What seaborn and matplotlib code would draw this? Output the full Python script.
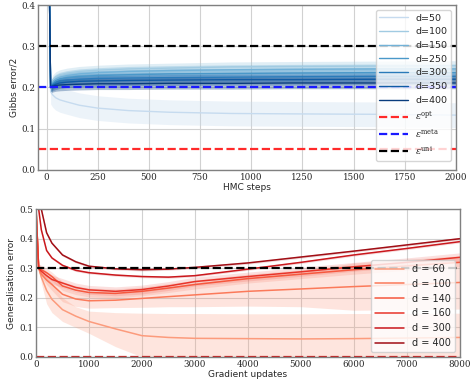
import numpy as np
import pandas as pd
import seaborn as sns
import matplotlib.pyplot as plt
from matplotlib import cm

# 01. donnees - panneau du haut (HMC)
hmc_steps = [10, 20, 30, 45, 65, 100, 160, 250, 400, 600, 900, 1200, 1600, 2000]
hmc_dims = [50, 100, 150, 250, 300, 350, 400]
gibbs_d50 = [0.60, 0.190, 0.182, 0.175, 0.170, 0.165, 0.157, 0.150, 0.144, 0.140, 0.137, 0.136, 0.135, 0.133]
gibbs_d100 = [0.60, 0.200, 0.218, 0.226, 0.231, 0.235, 0.239, 0.242, 0.245, 0.247, 0.250, 0.251, 0.252, 0.253]
gibbs_d150 = [0.60, 0.200, 0.213, 0.220, 0.225, 0.229, 0.233, 0.236, 0.239, 0.241, 0.243, 0.244, 0.245, 0.245]
gibbs_d250 = [0.60, 0.200, 0.210, 0.216, 0.220, 0.224, 0.227, 0.229, 0.231, 0.233, 0.234, 0.235, 0.236, 0.236]
gibbs_d300 = [0.60, 0.200, 0.207, 0.212, 0.215, 0.218, 0.220, 0.222, 0.223, 0.224, 0.225, 0.226, 0.227, 0.227]
gibbs_d350 = [0.60, 0.200, 0.205, 0.208, 0.211, 0.213, 0.215, 0.216, 0.217, 0.218, 0.219, 0.219, 0.220, 0.220]
gibbs_d400 = [0.60, 0.200, 0.203, 0.205, 0.206, 0.207, 0.208, 0.209, 0.209, 0.210, 0.210, 0.211, 0.211, 0.211]
gibbs_spread = [0.030, 0.012, 0.012, 0.012, 0.012, 0.013, 0.014]
eps_opt_hmc, eps_meta_hmc, eps_uni_hmc = 0.05, 0.2, 0.3

# 02. donnees - panneau du bas (descente de gradient)
grad_steps = [0, 50, 100, 200, 300, 500, 750, 1000, 1500, 2000, 2500, 3000, 4000, 5000, 6000, 7000, 8000]
gd_dims = [60, 100, 140, 160, 300, 400]
gen_d60 = [0.50, 0.30, 0.270, 0.225, 0.195, 0.160, 0.138, 0.120, 0.095, 0.072, 0.066, 0.063, 0.062, 0.061, 0.062, 0.064, 0.066]
gen_d100 = [0.50, 0.30, 0.280, 0.260, 0.245, 0.212, 0.196, 0.190, 0.192, 0.198, 0.204, 0.210, 0.222, 0.230, 0.238, 0.245, 0.252]
gen_d140 = [0.50, 0.30, 0.295, 0.285, 0.272, 0.240, 0.226, 0.218, 0.215, 0.222, 0.233, 0.245, 0.265, 0.280, 0.295, 0.308, 0.320]
gen_d160 = [0.50, 0.30, 0.290, 0.275, 0.262, 0.250, 0.235, 0.227, 0.222, 0.228, 0.240, 0.255, 0.272, 0.288, 0.305, 0.320, 0.337]
gen_d300 = [0.60, 0.50, 0.430, 0.360, 0.335, 0.310, 0.293, 0.285, 0.277, 0.272, 0.270, 0.275, 0.297, 0.320, 0.345, 0.367, 0.390]
gen_d400 = [0.60, 0.60, 0.500, 0.420, 0.385, 0.345, 0.322, 0.307, 0.298, 0.295, 0.297, 0.303, 0.318, 0.338, 0.358, 0.379, 0.400]
gen_d60_low = [0.50, 0.30, 0.250, 0.180, 0.150, 0.120, 0.100, 0.080, 0.035, 0.0, 0.0, 0.0, 0.0, 0.0, 0.0, 0.0, 0.0]
gen_d60_high = [0.50, 0.30, 0.290, 0.270, 0.250, 0.200, 0.170, 0.155, 0.150, 0.148, 0.147, 0.147, 0.146, 0.146, 0.147, 0.147, 0.148]
gen_d100_spread = [0.0, 0.005, 0.010, 0.015, 0.020, 0.025, 0.025, 0.025, 0.025, 0.030, 0.034, 0.040, 0.050, 0.060, 0.080, 0.085, 0.090]
gen_spread = [0.0, 0.0, 0.015, 0.015, 0.004, 0.004]
eps_opt_gd, eps_uni_gd = 0.0, 0.3

# 03. style
sns.set_style("whitegrid", {"axes.edgecolor": "0.5", "grid.color": "0.82"})
plt.rcParams["font.family"] = ["DejaVu Sans"]
plt.rcParams["mathtext.fontset"] = "dejavuserif"

fig = plt.figure(figsize=(4.74, 3.88), dpi=100)
ax1 = fig.add_axes([0.080, 0.562, 0.882, 0.425])
ax2 = fig.add_axes([0.076, 0.080, 0.894, 0.381])

# 04. panneau du haut
hmc_series = [gibbs_d50, gibbs_d100, gibbs_d150, gibbs_d250, gibbs_d300, gibbs_d350, gibbs_d400]
blues = [cm.Blues(v) for v in np.linspace(0.25, 0.95, len(hmc_dims))]
for d, serie, sp, col in zip(hmc_dims, hmc_series, gibbs_spread, blues):
    y = np.array(serie)
    ax1.fill_between(hmc_steps, y - sp, y + sp, color=col, alpha=0.32, lw=0)
    sns.lineplot(x=hmc_steps, y=serie, color=col, lw=1, label="d=%d" % d, ax=ax1)
ax1.axhline(eps_opt_hmc, color="#ff2a2a", ls="--", lw=1.6, label=r"$\varepsilon^{\rm opt}$")
ax1.axhline(eps_meta_hmc, color="#1a1aff", ls="--", lw=1.6, label=r"$\varepsilon^{\rm meta}$")
ax1.axhline(eps_uni_hmc, color="black", ls="--", lw=1.6, label=r"$\varepsilon^{\rm uni}$")
ax1.set_xlim(-42, 2000)
ax1.set_ylim(0, 0.4)
ax1.set_xticks(np.arange(0, 2001, 250))
ax1.set_yticks(np.arange(0, 0.41, 0.1))
ax1.set_xlabel("HMC steps", fontsize=6.5, labelpad=1)
ax1.set_ylabel("Gibbs error/2", fontsize=6.5, labelpad=2)
ax1.legend(loc="upper right", fontsize=6.8, handlelength=3, labelspacing=0.5)

# 05. panneau du bas
gd_series = [gen_d60, gen_d100, gen_d140, gen_d160, gen_d300, gen_d400]
reds = [cm.Reds(v) for v in [0.35, 0.45, 0.55, 0.65, 0.75, 0.88]]
ax2.fill_between(grad_steps, gen_d60_low, gen_d60_high, color=reds[0], alpha=0.25, lw=0)
y100 = np.array(gen_d100)
sp100 = np.array(gen_d100_spread)
ax2.fill_between(grad_steps, y100 - sp100, y100 + sp100, color=reds[1], alpha=0.2, lw=0)
for d, serie, sp, col in zip(gd_dims, gd_series, gen_spread, reds):
    y = np.array(serie)
    if sp > 0:
        ax2.fill_between(grad_steps, y - sp, y + sp, color=col, alpha=0.15, lw=0)
    sns.lineplot(x=grad_steps, y=serie, color=col, lw=1.1, label="d = %d" % d, ax=ax2)
ax2.axhline(eps_opt_gd, color="#c81e1e", ls="--", lw=1.6)
ax2.axhline(eps_uni_gd, color="black", ls="--", lw=1.6)
ax2.set_xlim(0, 8000)
ax2.set_ylim(0, 0.5)
ax2.set_xticks(np.arange(0, 8001, 1000))
ax2.set_yticks(np.arange(0, 0.51, 0.1))
ax2.set_xlabel("Gradient updates", fontsize=6.5, labelpad=1)
ax2.set_ylabel("Generalisation error", fontsize=6.5, labelpad=2)
ax2.legend(loc="lower right", fontsize=7, handlelength=3, labelspacing=0.5)

for ax in (ax1, ax2):
    ax.tick_params(labelsize=6.3, pad=2, length=0)
    for lab in ax.get_xticklabels() + ax.get_yticklabels():
        lab.set_family("DejaVu Serif")
    ax.xaxis.set_major_formatter(plt.FuncFormatter(lambda v, p: "%d" % v))
    ax.yaxis.set_major_formatter(plt.FuncFormatter(lambda v, p: "%.1f" % v))
    for s in ax.spines.values():
        s.set_linewidth(1)

fig.savefig("out.png", dpi=100)
